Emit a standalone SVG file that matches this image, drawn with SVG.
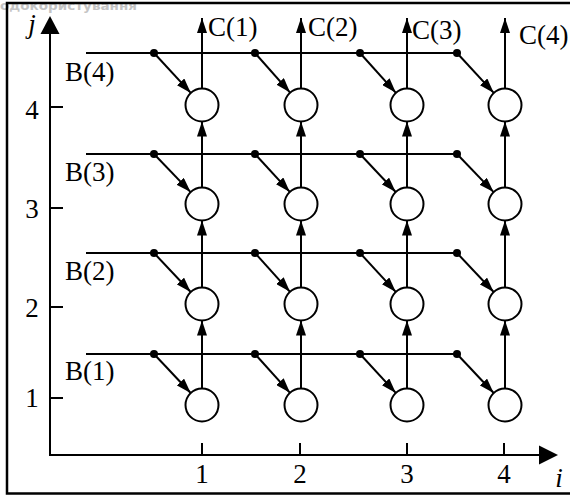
<svg xmlns="http://www.w3.org/2000/svg" width="570" height="496" viewBox="0 0 570 496">
<style>
.ln{stroke:#000;stroke-width:2;fill:none}
.ar{stroke:#000;stroke-width:2;fill:none;marker-end:url(#ah)}
.nd{stroke:#000;stroke-width:2;fill:#fff}
.dot{fill:#000}
.t{font-family:"Liberation Serif","Times New Roman",serif;font-size:27px;fill:#000}
.it{font-style:italic}
.wm{font-family:"DejaVu Sans","Noto Sans",sans-serif;font-weight:bold;font-size:13px;fill:#c4c4c4}
</style>
<defs>
<marker id="ah" markerUnits="userSpaceOnUse" markerWidth="15" markerHeight="10" refX="15" refY="5" orient="auto">
<path d="M0,0 L15,5 L0,10 z" fill="#000"/>
</marker>
</defs>
<rect x="0" y="0" width="570" height="496" fill="#fff"/>
<text class="wm" x="0" y="10" textLength="137" lengthAdjust="spacingAndGlyphs">одокористування</text>
<path d="M575,3 H7 V493.5 H575" stroke="#000" stroke-width="2.5" fill="none"/>
<g id="axes">
<line class="ln" x1="50" y1="456" x2="50" y2="33"/>
<polygon points="50,16 40.5,34 59.5,34" fill="#000"/>
<line class="ln" x1="49" y1="455" x2="540" y2="455"/>
<polygon points="558,455 539,445.5 539,464.5" fill="#000"/>
<path class="ln" d="M50,107 H63 M50,208 H63 M50,307 H63 M50,398 H63 M202,443 V455 M300,443 V455 M407,443 V455 M504,443 V455"/>
<text class="t it" x="32" y="33" text-anchor="middle" font-size="25">j</text>
<text class="t it" x="559" y="487" text-anchor="middle">i</text>
<text class="t" x="32" y="119" text-anchor="middle">4</text>
<text class="t" x="32" y="218" text-anchor="middle">3</text>
<text class="t" x="32" y="317" text-anchor="middle">2</text>
<text class="t" x="32" y="407" text-anchor="middle">1</text>
<text class="t" x="202" y="483" text-anchor="middle">1</text>
<text class="t" x="300" y="483" text-anchor="middle">2</text>
<text class="t" x="407" y="483" text-anchor="middle">3</text>
<text class="t" x="504" y="483" text-anchor="middle">4</text>
</g>
<g id="labels">
<text class="t" x="65" y="81">B(4)</text>
<text class="t" x="65" y="181">B(3)</text>
<text class="t" x="65" y="280">B(2)</text>
<text class="t" x="65" y="380">B(1)</text>
<text class="t" x="208" y="36">C(1)</text>
<text class="t" x="308" y="36">C(2)</text>
<text class="t" x="412" y="39">C(3)</text>
<text class="t" x="519" y="44">C(4)</text>
</g>
<g id="connectors">
<path class="ln" d="M86,53 H457 M86,154 H457 M86,253 H457 M86,354 H457"/>
<g class="dots">
<circle class="dot" cx="154" cy="53" r="4"/><circle class="dot" cx="255" cy="53" r="4"/><circle class="dot" cx="360" cy="53" r="4"/><circle class="dot" cx="457" cy="53" r="4"/>
<circle class="dot" cx="154" cy="154" r="4"/><circle class="dot" cx="255" cy="154" r="4"/><circle class="dot" cx="360" cy="154" r="4"/><circle class="dot" cx="457" cy="154" r="4"/>
<circle class="dot" cx="154" cy="253" r="4"/><circle class="dot" cx="255" cy="253" r="4"/><circle class="dot" cx="360" cy="253" r="4"/><circle class="dot" cx="457" cy="253" r="4"/>
<circle class="dot" cx="154" cy="354" r="4"/><circle class="dot" cx="255" cy="354" r="4"/><circle class="dot" cx="360" cy="354" r="4"/><circle class="dot" cx="457" cy="354" r="4"/>
</g>
<line class="ar" x1="154" y1="53" x2="190.8" y2="92.9"/>
<line class="ar" x1="255" y1="53" x2="290.1" y2="92.6"/>
<line class="ar" x1="360" y1="53" x2="395.9" y2="92.8"/>
<line class="ar" x1="457" y1="53" x2="493.8" y2="92.9"/>
<line class="ar" x1="154" y1="154" x2="190.6" y2="192.1"/>
<line class="ar" x1="255" y1="154" x2="289.8" y2="191.9"/>
<line class="ar" x1="360" y1="154" x2="395.7" y2="192"/>
<line class="ar" x1="457" y1="154" x2="493.6" y2="192.1"/>
<line class="ar" x1="154" y1="253" x2="190.7" y2="292"/>
<line class="ar" x1="255" y1="253" x2="290" y2="291.8"/>
<line class="ar" x1="360" y1="253" x2="395.8" y2="291.9"/>
<line class="ar" x1="457" y1="253" x2="493.7" y2="292"/>
<line class="ar" x1="154" y1="354" x2="190.7" y2="393"/>
<line class="ar" x1="255" y1="354" x2="290" y2="392.8"/>
<line class="ar" x1="360" y1="354" x2="395.8" y2="392.9"/>
<line class="ar" x1="457" y1="354" x2="493.7" y2="393"/>
<line class="ar" x1="202" y1="388.5" x2="202" y2="320.5"/>
<line class="ar" x1="301" y1="388.5" x2="301" y2="320.5"/>
<line class="ar" x1="407" y1="388.5" x2="407" y2="320.5"/>
<line class="ar" x1="505" y1="388.5" x2="505" y2="320.5"/>
<line class="ar" x1="202" y1="287.5" x2="202" y2="220.5"/>
<line class="ar" x1="301" y1="287.5" x2="301" y2="220.5"/>
<line class="ar" x1="407" y1="287.5" x2="407" y2="220.5"/>
<line class="ar" x1="505" y1="287.5" x2="505" y2="220.5"/>
<line class="ar" x1="202" y1="187.5" x2="202" y2="121.5"/>
<line class="ar" x1="301" y1="187.5" x2="301" y2="121.5"/>
<line class="ar" x1="407" y1="187.5" x2="407" y2="121.5"/>
<line class="ar" x1="505" y1="187.5" x2="505" y2="121.5"/>
<line class="ar" x1="202" y1="88.5" x2="202" y2="18"/>
<line class="ar" x1="301" y1="88.5" x2="301" y2="18"/>
<line class="ar" x1="407" y1="88.5" x2="407" y2="18"/>
<line class="ar" x1="505" y1="88.5" x2="505" y2="18"/>
</g>
<g id="n11"><circle class="nd" cx="202" cy="405" r="16.5"/></g>
<g id="n21"><circle class="nd" cx="301" cy="405" r="16.5"/></g>
<g id="n31"><circle class="nd" cx="407" cy="405" r="16.5"/></g>
<g id="n41"><circle class="nd" cx="505" cy="405" r="16.5"/></g>
<g id="n12"><circle class="nd" cx="202" cy="304" r="16.5"/></g>
<g id="n22"><circle class="nd" cx="301" cy="304" r="16.5"/></g>
<g id="n32"><circle class="nd" cx="407" cy="304" r="16.5"/></g>
<g id="n42"><circle class="nd" cx="505" cy="304" r="16.5"/></g>
<g id="n13"><circle class="nd" cx="202" cy="204" r="16.5"/></g>
<g id="n23"><circle class="nd" cx="301" cy="204" r="16.5"/></g>
<g id="n33"><circle class="nd" cx="407" cy="204" r="16.5"/></g>
<g id="n43"><circle class="nd" cx="505" cy="204" r="16.5"/></g>
<g id="n14"><circle class="nd" cx="202" cy="105" r="16.5"/></g>
<g id="n24"><circle class="nd" cx="301" cy="105" r="16.5"/></g>
<g id="n34"><circle class="nd" cx="407" cy="105" r="16.5"/></g>
<g id="n44"><circle class="nd" cx="505" cy="105" r="16.5"/></g>
</svg>
